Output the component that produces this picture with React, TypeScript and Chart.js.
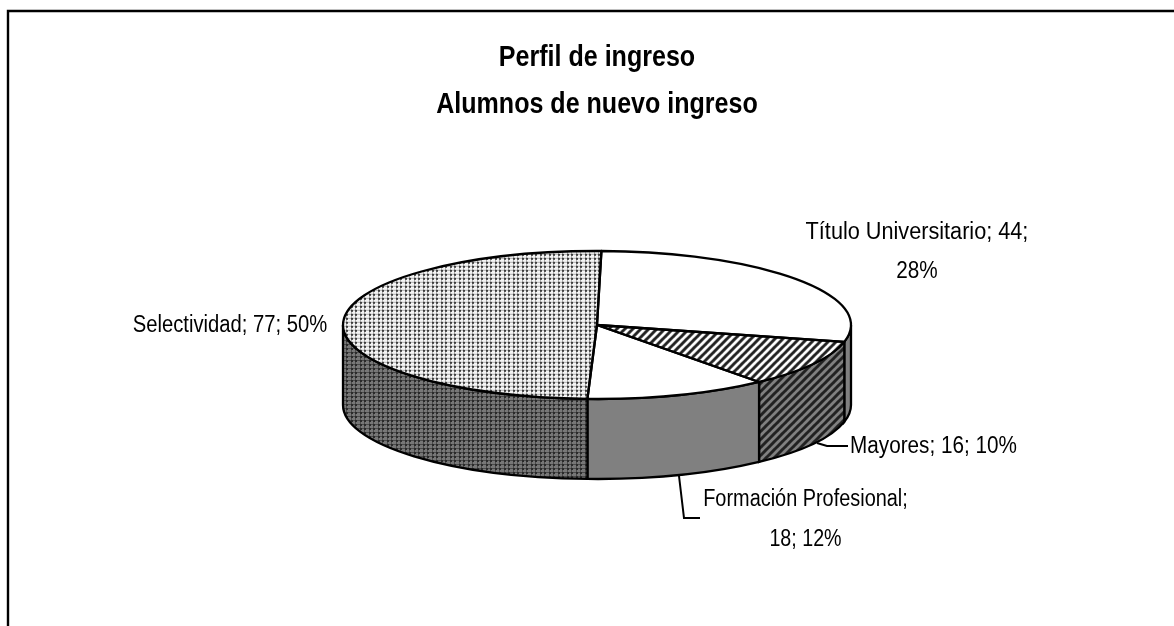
import React, { useEffect, useRef } from "react";
import { Chart, registerables } from "chart.js";

Chart.register(...registerables);

const titleLines = ["Perfil de ingreso", "Alumnos de nuevo ingreso"];
const categories = ["Título Universitario", "Mayores", "Formación Profesional", "Selectividad"];
const values = [44, 16, 18, 77];
const total = values.reduce((a, b) => a + b, 0);
const percents = values.map((v) => Math.round((v / total) * 100));

const labelLines = [
  [`${categories[0]}; ${values[0]};`, `${percents[0]}%`],
  [`${categories[1]}; ${values[1]}; ${percents[1]}%`],
  [`${categories[2]};`, `${values[2]}; ${percents[2]}%`],
  [`${categories[3]}; ${values[3]}; ${percents[3]}%`],
];

const W = 1174;
const H = 626;
const CX_PAD = 20;
const CENTER_Y = 325;
const RADIUS = 254;
const RY = 74;
const DEPTH = 80;
const K = RY / RADIUS;

const titleRows = [58, 105];
const labelBoxes = [
  { x: 917, y: 232.5, gap: 39, squeeze: [0.942, 0.9] },
  { x: 933.5, y: 447, gap: 0, squeeze: [0.9] },
  { x: 805.5, y: 500, gap: 40, squeeze: [0.865, 0.855] },
  { x: 230, y: 326, gap: 0, squeeze: [0.88] },
];
const leaderLines = [
  null,
  [[817, 443], [827, 446], [848, 446]],
  [[679, 476], [684, 518], [700, 518]],
  null,
];

function tile(w: number, h: number, draw: (c: CanvasRenderingContext2D) => void) {
  const cv = document.createElement("canvas");
  cv.width = w;
  cv.height = h;
  const c = cv.getContext("2d")!;
  draw(c);
  return cv;
}

function dots(bg: string, dot: string, mid: string) {
  return tile(9, 8, (c) => {
    c.fillStyle = bg;
    c.fillRect(0, 0, 9, 8);
    c.fillStyle = mid;
    c.fillRect(0, 0, 9, 1);
    c.fillRect(0, 4, 9, 1);
    c.fillRect(0, 0, 1, 8);
    c.fillRect(4, 0, 1, 8);
    c.fillStyle = dot;
    c.fillRect(0, 0, 2, 2);
    c.fillRect(4, 0, 2, 2);
    c.fillRect(0, 4, 2, 2);
    c.fillRect(4, 4, 2, 2);
  });
}

function stripes(bg: string, fg: string) {
  return tile(8, 8, (c) => {
    c.fillStyle = bg;
    c.fillRect(0, 0, 8, 8);
    c.strokeStyle = fg;
    c.lineWidth = 3;
    for (const o of [-8, 0, 8, 16]) {
      c.beginPath();
      c.moveTo(o - 1, 9);
      c.lineTo(o + 9, -1);
      c.stroke();
    }
  });
}

const makePie3d = (walls: any[]) => ({
  id: "pie3d",
  beforeDatasetsDraw(chart: any) {
    const ctx: CanvasRenderingContext2D = chart.ctx;
    const arcs = chart.getDatasetMeta(0).data;
    const cx = arcs[0].x;
    ctx.save();
    ctx.lineWidth = 2.3;
    ctx.strokeStyle = "#000";
    arcs.forEach((arc: any, i: number) => {
      const a = Math.max(arc.startAngle, 0);
      const b = Math.min(arc.endAngle, Math.PI);
      if (a >= b) return;
      ctx.beginPath();
      ctx.ellipse(cx, CENTER_Y, RADIUS, RY, 0, a, b);
      ctx.ellipse(cx, CENTER_Y + DEPTH, RADIUS, RY, 0, b, a, true);
      ctx.closePath();
      ctx.fillStyle = walls[i];
      ctx.fill();
      ctx.stroke();
    });
    ctx.restore();
    ctx.save();
    ctx.translate(cx, CENTER_Y);
    ctx.scale(1, K);
    ctx.translate(-cx, -arcs[0].y);
  },
  afterDatasetsDraw(chart: any) {
    const ctx: CanvasRenderingContext2D = chart.ctx;
    ctx.restore();
    const arcs = chart.getDatasetMeta(0).data;
    ctx.save();
    ctx.lineWidth = 2.3;
    ctx.strokeStyle = "#000";
    ctx.lineJoin = "round";
    arcs.forEach((arc: any) => {
      ctx.save();
      ctx.translate(arc.x, CENTER_Y);
      ctx.scale(1, K);
      ctx.beginPath();
      ctx.moveTo(0, 0);
      ctx.arc(0, 0, arc.outerRadius, arc.startAngle, arc.endAngle);
      ctx.closePath();
      ctx.restore();
      ctx.stroke();
    });
    ctx.restore();

    // frame: top and left edges only
    ctx.save();
    ctx.strokeStyle = "#000";
    ctx.lineWidth = 2.4;
    ctx.beginPath();
    ctx.moveTo(8, H);
    ctx.lineTo(8, 11);
    ctx.lineTo(W, 11);
    ctx.stroke();

    // leaders
    ctx.lineWidth = 2;
    leaderLines.forEach((pts) => {
      if (!pts) return;
      ctx.beginPath();
      pts.forEach((p, i) => (i ? ctx.lineTo(p[0], p[1]) : ctx.moveTo(p[0], p[1])));
      ctx.stroke();
    });

    // title
    ctx.fillStyle = "#000";
    ctx.textAlign = "center";
    ctx.textBaseline = "middle";
    ctx.font = 'bold 30px "Liberation Sans"';
    titleLines.forEach((line, i) => {
      ctx.save();
      ctx.translate(arcs[0].x, titleRows[i]);
      ctx.scale(0.835, 1);
      ctx.fillText(line, 0, 0);
      ctx.restore();
    });

    // data labels
    ctx.font = '23px "Liberation Sans"';
    labelLines.forEach((lines, i) => {
      const box = labelBoxes[i];
      lines.forEach((line, j) => {
        ctx.save();
        ctx.translate(box.x, box.y + j * box.gap);
        ctx.scale(box.squeeze[j], 1);
        ctx.fillText(line, 0, 0);
        ctx.restore();
      });
    });
    ctx.restore();
  },
});

export default function App() {
  const ref = useRef<HTMLCanvasElement>(null);
  useEffect(() => {
    const canvas = ref.current!;
    const ctx = canvas.getContext("2d")!;
    const topMatrix = new DOMMatrix().scale(1, 1 / K);
    const topDots = ctx.createPattern(dots("#f4f4f4", "#3c3c3c", "#b0b0b0"), "repeat")!;
    topDots.setTransform(topMatrix);
    const topStripes = ctx.createPattern(stripes("#ffffff", "#222222"), "repeat")!;
    topStripes.setTransform(topMatrix);
    const wallDots = ctx.createPattern(dots("#777777", "#2a2a2a", "#4a4a4a"), "repeat")!;
    const wallStripes = ctx.createPattern(stripes("#808080", "#222222"), "repeat")!;

    const chart: any = new Chart(canvas, {
      type: "pie",
      data: {
        labels: categories,
        datasets: [
          {
            data: values,
            backgroundColor: ["#ffffff", topStripes, "#ffffff", topDots],
            borderWidth: 0,
            clip: false,
          } as any,
        ],
      },
      options: {
        responsive: false,
        animation: false,
        rotation: 1,
        radius: RADIUS,
        layout: { padding: { left: CX_PAD } },
        plugins: {
          legend: { display: false },
          tooltip: { enabled: false },
          title: { display: false },
        },
      } as any,
      plugins: [makePie3d(["#808080", wallStripes, "#808080", wallDots])],
    });
    return () => chart.destroy();
  }, []);
  return (
    <canvas
      ref={ref}
      width={W}
      height={H}
      style={{ position: "fixed", left: 0, top: 0, width: W, height: H, display: "block", background: "#fff" }}
    />
  );
}
